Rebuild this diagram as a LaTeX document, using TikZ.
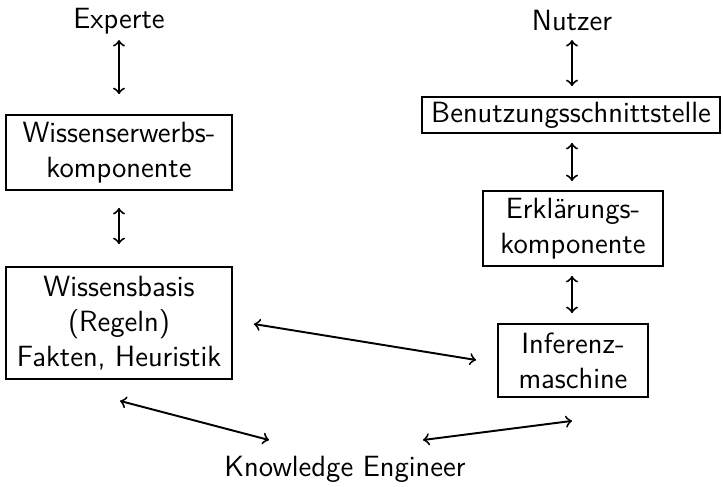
\documentclass[tikz,border=0pt]{standalone}
\usetikzlibrary{calc}
\tikzset{
  box/.style={draw, line width=0.7pt, align=center, inner sep=0pt},
  lbl/.style={anchor=base, inner sep=0pt},
  arr/.style={<->, line width=0.75pt},
}
\begin{document}
\begin{tikzpicture}[x=0.386pt, y=-0.386pt, font=\sffamily\fontsize{11.3}{13.6}\selectfont]
\useasboundingbox (0,0) rectangle (723,486);
% labels
\node[lbl] (exp) at (119,28) {Experte};
\node[lbl] (nut) at (572,30) {Nutzer};
\node[lbl] (ke) at (345,476) {Knowledge Engineer};
% boxes
\node[box, minimum width={226*0.386pt}, minimum height={75*0.386pt}] (b1) at (119,152.5) {Wissenserwerbs-\\komponente};
\node[box, minimum width={226*0.386pt}, minimum height={112*0.386pt}] (b2) at (119,323) {Wissensbasis\\(Regeln)\\Fakten, Heuristik};
\node[box, minimum width={298*0.386pt}, minimum height={36*0.386pt}] (b3) at (571,115) {Benutzungsschnittstelle};
\node[box, minimum width={180*0.386pt}, minimum height={75*0.386pt}] (b4) at (573,228.5) {Erkl\"arungs-\\komponente};
\node[box, minimum width={150*0.386pt}, minimum height={73*0.386pt}] (b5) at (573,360.5) {Inferenz-\\maschine};
% connectors
\draw[arr] ($(exp.base)+(0,12)$) -- ($(b1.north)+(0,-20)$);
\draw[arr] ($(b1.south)+(0,17)$) -- ($(b2.north)+(0,-22)$);
\draw[arr] ($(nut.base)+(0,10)$) -- ($(b3.north)+(1,-10)$);
\draw[arr] ($(b3.south)+(1,9)$) -- ($(b4.north)+(-1,-9)$);
\draw[arr] ($(b4.south)+(-1,9)$) -- ($(b5.north)+(-1,-10)$);
\draw[arr] ($(b2.east)+(21,1)$) -- ($(b5.west)+(-21,-0.5)$);
\draw[arr] ($(b2.south)+(1,21)$) -- ($(ke.base)+(-76,-36)$);
\draw[arr] ($(ke.base)+(78,-36)$) -- ($(b5.south)+(-1,23)$);
\end{tikzpicture}
\end{document}
